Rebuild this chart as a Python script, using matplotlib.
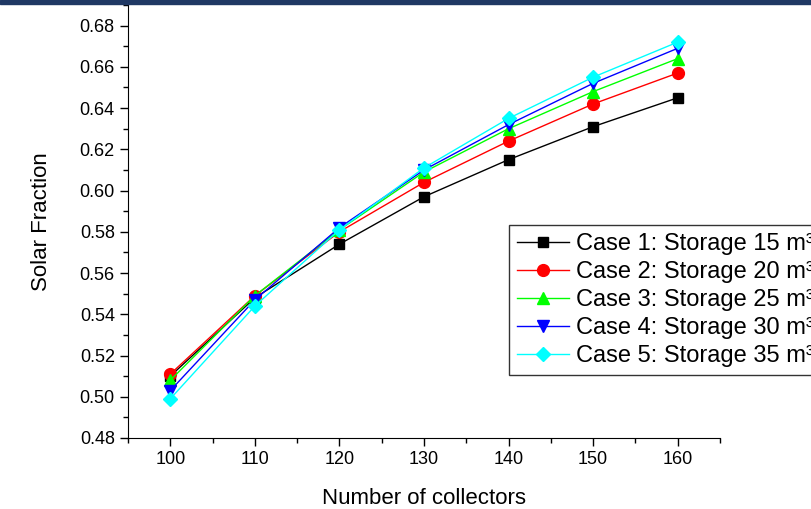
import matplotlib
matplotlib.use("Agg")
import matplotlib.pyplot as plt
from matplotlib.patches import Rectangle
from matplotlib.ticker import MultipleLocator

plt.rcParams["font.family"] = ["Liberation Sans", "DejaVu Sans"]

collectors = [100, 110, 120, 130, 140, 150, 160]
case1 = [0.510, 0.548, 0.574, 0.597, 0.615, 0.631, 0.645]
case2 = [0.511, 0.549, 0.580, 0.604, 0.624, 0.642, 0.657]
case3 = [0.508, 0.549, 0.581, 0.609, 0.630, 0.648, 0.664]
case4 = [0.503, 0.547, 0.582, 0.610, 0.632, 0.652, 0.669]
case5 = [0.499, 0.544, 0.581, 0.611, 0.635, 0.655, 0.672]
labels = ["Case 1: Storage 15 m³", "Case 2: Storage 20 m³", "Case 3: Storage 25 m³",
          "Case 4: Storage 30 m³", "Case 5: Storage 35 m³"]

fig = plt.figure(figsize=(8.12, 5.09), dpi=100)
ax = fig.add_axes([128 / 812, 1 - 438 / 509, (720 - 128) / 812, (438 - 5) / 509])

# thin dark band across the top
fig.patches.append(Rectangle((0, 1 - 4 / 509), 1, 4 / 509, transform=fig.transFigure,
                             color="#1f3864", zorder=10))

ax.plot(collectors, case1, color="black", marker="s", ms=7, lw=1, label=labels[0])
ax.plot(collectors, case2, color="red", marker="o", ms=8.5, lw=1, label=labels[1])
ax.plot(collectors, case3, color="#00ff00", marker="^", ms=9, lw=1, label=labels[2])
ax.plot(collectors, case4, color="blue", marker="v", ms=9, lw=1, label=labels[3])
ax.plot(collectors, case5, color="cyan", marker="D", ms=7.5, lw=1, label=labels[4])

ax.set_xlim(95, 165)
ax.set_ylim(0.48, 0.69)
ax.set_xticks(collectors)
ax.set_yticks([0.48 + 0.02 * i for i in range(11)])
ax.yaxis.set_major_formatter(plt.FormatStrFormatter("%.2f"))
ax.xaxis.set_minor_locator(MultipleLocator(5))
ax.yaxis.set_minor_locator(MultipleLocator(0.01))
ax.tick_params(which="major", direction="out", length=6, width=1, labelsize=13)
ax.tick_params(which="minor", direction="out", length=3.5, width=1)
ax.spines["top"].set_visible(False)
ax.spines["right"].set_visible(False)

ax.set_xlabel("Number of collectors", fontsize=16, labelpad=14)
ax.set_ylabel("Solar Fraction", fontsize=16, labelpad=20)

leg = ax.legend(loc="upper left", bbox_to_anchor=(509 / 812, 1 - 225 / 509),
                bbox_transform=fig.transFigure, fontsize=17, frameon=True,
                fancybox=False, edgecolor="black", borderaxespad=0,
                handlelength=2.2, labelspacing=0.25, handletextpad=0.3,
                borderpad=0.35)
leg.get_frame().set_linewidth(1)

fig.savefig("out.png", dpi=100)
